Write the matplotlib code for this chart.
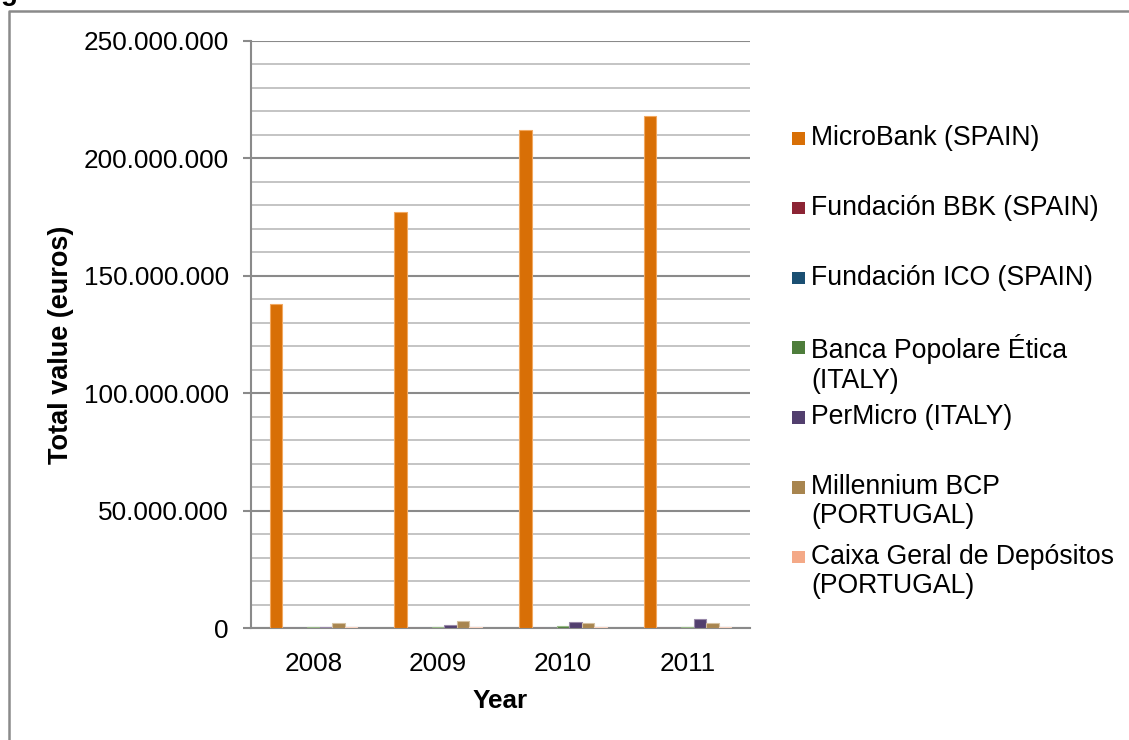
import matplotlib
matplotlib.use("Agg")
import matplotlib.pyplot as plt
import numpy as np
from matplotlib.ticker import FuncFormatter, MultipleLocator
from matplotlib.patches import Rectangle
from matplotlib.lines import Line2D

plt.rcParams['font.family'] = ['Liberation Sans', 'DejaVu Sans']

years = ["2008", "2009", "2010", "2011"]
series_names = [
    "MicroBank (SPAIN)",
    "Fundación BBK (SPAIN)",
    "Fundación ICO (SPAIN)",
    "Banca Popolare Ética\n(ITALY)",
    "PerMicro (ITALY)",
    "Millennium BCP\n(PORTUGAL)",
    "Caixa Geral de Depósitos\n(PORTUGAL)",
]
microbank = [138_000_000, 177_000_000, 212_000_000, 218_000_000]
fundacion_bbk = [150_000, 150_000, 150_000, 150_000]
fundacion_ico = [50_000, 50_000, 50_000, 50_000]
banca_etica = [550_000, 600_000, 1_000_000, 600_000]
permicro = [550_000, 1_300_000, 2_700_000, 4_000_000]
millennium = [2_300_000, 2_800_000, 2_000_000, 2_000_000]
caixa = [450_000, 450_000, 500_000, 600_000]

series_values = [microbank, fundacion_bbk, fundacion_ico, banca_etica,
                 permicro, millennium, caixa]
colors = ["#D86F06", "#8C2434", "#1A4F72", "#4E7D3B", "#523F6E", "#A8854F", "#F4A987"]
edges = ["#F2A860", "#C07080", "#7090B0", "#98B888", "#9888A8", "#D4C0A0", "#FAD4C2"]

W, H = 1129, 740
fig = plt.figure(figsize=(W / 100, H / 100), dpi=100)
ax = fig.add_axes([251 / W, 1 - 628 / H, (750 - 251) / W, (628 - 41) / H])

x = np.arange(len(years))
bw = 0.1
n = len(series_values)
for i, (vals, c, e) in enumerate(zip(series_values, colors, edges)):
    ax.bar(x + (i - (n - 1) / 2) * bw, vals, width=bw, color=c,
           edgecolor=e, linewidth=0.8, zorder=3)

ax.set_xlim(-0.5, len(years) - 0.5)
ax.set_ylim(0, 250_000_000)
ax.yaxis.set_major_locator(MultipleLocator(50_000_000))
ax.yaxis.set_minor_locator(MultipleLocator(10_000_000))
ax.yaxis.set_major_formatter(FuncFormatter(lambda v, p: f"{int(v):,}".replace(",", ".")))
ax.grid(axis='y', which='major', color='#8A8A8A', linewidth=1.5, zorder=0)
ax.grid(axis='y', which='minor', color='#C4C4C4', linewidth=1.4, zorder=0)
ax.set_axisbelow(True)

ax.set_xticks(x)
ax.set_xticklabels(years)
ax.tick_params(axis='x', length=0, pad=17, labelsize=18.8)
ax.tick_params(axis='y', which='major', length=6, width=1.5, color='#8A8A8A',
               pad=10, labelsize=18.8)
ax.tick_params(axis='y', which='minor', length=0)

for s in ['top', 'right']:
    ax.spines[s].set_visible(False)
for s in ['left', 'bottom']:
    ax.spines[s].set_color('#8A8A8A')
    ax.spines[s].set_linewidth(1.5)

ax.set_ylabel("Total value (euros)", fontsize=19.5, fontweight='bold')
ax.yaxis.set_label_coords((74 - 251) / (750 - 251), (628 - 345) / (628 - 41))
ax.set_xlabel("Year", fontsize=18.8, fontweight='bold')
ax.xaxis.set_label_coords(0.5, (628 - 689) / (628 - 41))

# legend drawn manually (first line aligned with marker)
y0 = 138
dy = 69.8
for i, (name, c) in enumerate(zip(series_names, colors)):
    yc = y0 + i * dy
    fig.patches.append(Rectangle((792 / W, 1 - (yc + 6.5) / H), 12.5 / W, 12.5 / H,
                                 transform=fig.transFigure, facecolor=c,
                                 edgecolor='none'))
    fig.text(811 / W, 1 - (yc - 13) / H, name, fontsize=19.2, va='top',
             ha='left', linespacing=1.17)

# chart frame (partially visible) and cut-off caption letter
fig.add_artist(Line2D([8.5 / W, 8.5 / W, 1], [0, 1 - 11 / H, 1 - 11 / H],
                      transform=fig.transFigure, color='#8A8A8A', linewidth=1.8))
fig.text(1 / W, 1 - 0 / H, "g", fontsize=20, fontweight='bold', va='baseline', ha='left')

fig.savefig("out.png", dpi=100)
